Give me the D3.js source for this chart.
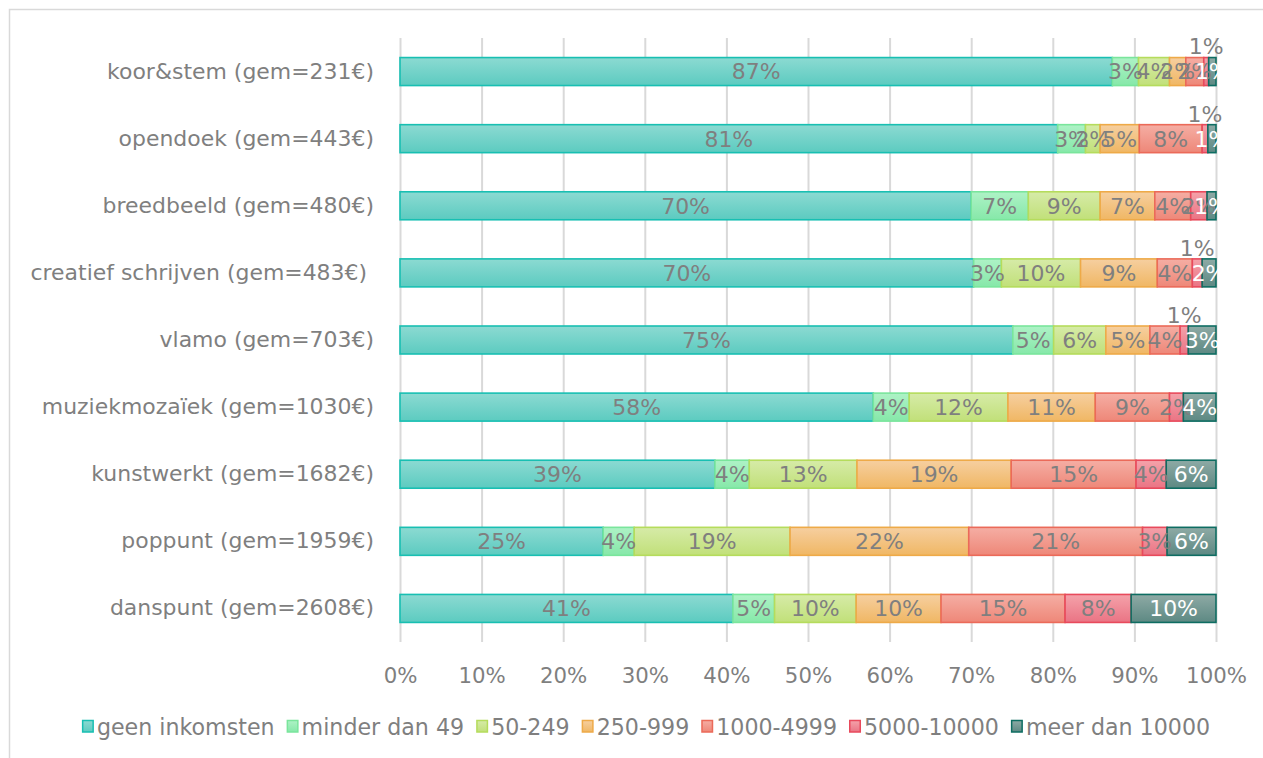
<!DOCTYPE html>
<html>
<head>
<meta charset="utf-8">
<script src="https://cdn.jsdelivr.net/npm/d3@7"></script>
<style>
  html, body { margin: 0; padding: 0; background: #fff; }
  svg { display: block; }
</style>
</head>
<body>
<svg id="chart" width="1263" height="758"></svg>
<script>
// ---- data ----
const categories = [
  "koor&stem (gem=231€)",
  "opendoek (gem=443€)",
  "breedbeeld (gem=480€)",
  "creatief schrijven (gem=483€) ",
  "vlamo (gem=703€)",
  "muziekmozaïek (gem=1030€)",
  "kunstwerkt (gem=1682€)",
  "poppunt (gem=1959€)",
  "danspunt (gem=2608€)"
];
const seriesNames = ["geen inkomsten", "minder dan 49", "50-249", "250-999", "1000-4999", "5000-10000", "meer dan 10000"];
const geenInkomsten = [87.3, 80.6, 70.0, 70.3, 75.1, 58.0, 38.6, 24.9, 40.8];
const minderDan49   = [3.2, 3.4, 7.0, 3.4, 5.0, 4.4, 4.2, 3.8, 5.1];
const s50_249       = [3.8, 1.8, 8.8, 9.7, 6.4, 12.1, 13.2, 19.1, 10.0];
const s250_999      = [2.0, 4.8, 6.7, 9.4, 5.4, 10.7, 18.9, 21.9, 10.4];
const s1000_4999    = [2.2, 7.7, 4.4, 4.3, 3.7, 9.1, 15.3, 21.3, 15.2];
const s5000_10000   = [0.6, 0.7, 2.0, 1.2, 1.0, 1.7, 3.7, 3.0, 8.1];
const meerDan10000  = [0.9, 1.0, 1.1, 1.7, 3.4, 4.0, 6.1, 6.0, 10.4];
const xTicks = [0, 10, 20, 30, 40, 50, 60, 70, 80, 90, 100];

const seriesValues = [geenInkomsten, minderDan49, s50_249, s250_999, s1000_4999, s5000_10000, meerDan10000];

// ---- styles ----
const fillTop    = ["#8cdad2", "#aef2c6", "#d6eba8", "#f6cfa0", "#f5aea4", "#f4a2aa", "#8eaaa5"];
const fillBottom = ["#5ccbc0", "#86e8a9", "#c1e079", "#f0b764", "#ee8778", "#ea7484", "#5d8983"];
const strokeCol  = ["#18bfb2", "#7ae59c", "#b5dc5c", "#eeaa48", "#eb6a59", "#e84a5c", "#0e6d62"];
const labelCol   = ["#7f7f7f", "#7f7f7f", "#7f7f7f", "#7f7f7f", "#7f7f7f", "#7f7f7f", "#ffffff"];
const FONT = "'Century Gothic', 'URW Gothic', 'DejaVu Sans', sans-serif";

const svg = d3.select("#chart");

// fit font size so the first category label matches the reference width
const probe = svg.append("text").attr("font-family", FONT).attr("font-size", 100).text(categories[0]);
const w100 = probe.node().getComputedTextLength();
probe.remove();
const FS = Math.min(24, 100 * 267 / w100);

// chart border
svg.append("rect").attr("x", 9.5).attr("y", 9.5).attr("width", 1400).attr("height", 900)
  .attr("fill", "none").attr("stroke", "#d9d9d9").attr("stroke-width", 1.5);

const x = d3.scaleLinear().domain([0, 100]).range([400, 1216]);
const y = d3.scaleBand().domain(categories).range([38, 642]).paddingInner(0.583).paddingOuter(0.2915);

const defs = svg.append("defs");
seriesNames.forEach((s, i) => {
  const g = defs.append("linearGradient").attr("id", "grad" + i)
    .attr("x1", 0).attr("y1", 0).attr("x2", 0).attr("y2", 1);
  g.append("stop").attr("offset", "0%").attr("stop-color", fillTop[i]);
  g.append("stop").attr("offset", "100%").attr("stop-color", fillBottom[i]);
});

// gridlines + tick labels
const xAxis = d3.axisBottom(x).tickValues(xTicks).tickFormat(d => d + "%")
  .tickSize(-(642 - 38)).tickPadding(0);
const gx = svg.append("g").attr("transform", "translate(0,642)").call(xAxis);
gx.select(".domain").remove();
gx.selectAll(".tick line").attr("stroke", "#d9d9d9").attr("stroke-width", 2);
gx.selectAll(".tick text").attr("fill", "#7f7f7f").attr("font-family", FONT)
  .attr("font-size", FS * 0.97).attr("dy", null).attr("y", 41);

// category labels
const yAxis = d3.axisLeft(y).tickSize(0).tickPadding(0);
const gy = svg.append("g").attr("transform", "translate(374,0)").call(yAxis);
gy.select(".domain").remove();
gy.selectAll(".tick text").attr("fill", "#7f7f7f").attr("font-family", FONT).attr("font-size", FS)
  .style("white-space", "pre");

// stacked data
const stackData = categories.map((c, ci) => {
  let acc = 0;
  return seriesValues.map((arr, si) => {
    const v = arr[ci];
    const d = { cat: c, series: si, v: v, x0: acc, x1: acc + v };
    acc += v;
    return d;
  });
});

const gBars = svg.append("g");
stackData.forEach(row => {
  row.forEach(d => {
    gBars.append("rect")
      .attr("x", x(d.x0))
      .attr("y", y(d.cat))
      .attr("width", x(d.x1) - x(d.x0))
      .attr("height", y.bandwidth())
      .attr("fill", "url(#grad" + d.series + ")")
      .attr("stroke", strokeCol[d.series])
      .attr("stroke-width", 1.6);
  });
});

// data labels
const gLab = svg.append("g").attr("font-family", FONT).attr("font-size", FS).attr("text-anchor", "middle");
stackData.forEach(row => {
  row.forEach(d => {
    const raised = d.v < 1.5 && d.series !== seriesNames.length - 1;
    const cy = raised ? y(d.cat) - 11 : y(d.cat) + y.bandwidth() / 2;
    gLab.append("text")
      .attr("x", x((d.x0 + d.x1) / 2))
      .attr("y", cy)
      .attr("dy", "0.36em")
      .attr("fill", raised ? "#7f7f7f" : labelCol[d.series])
      .text(Math.round(d.v) + "%");
  });
});

// legend
const leg = svg.append("g").attr("font-family", FONT).attr("font-size", FS * 1.01);
let lx = 0;
const items = [];
const GAP = 12;
seriesNames.forEach((s, i) => {
  const it = leg.append("g");
  it.append("rect").attr("x", 0.75).attr("y", -6.5).attr("width", 10.5).attr("height", 11.5)
    .attr("fill", "url(#grad" + i + ")").attr("stroke", strokeCol[i]).attr("stroke-width", 1.5);
  const t = it.append("text").attr("x", 15).attr("y", 0).attr("dy", "0.36em").attr("fill", "#7f7f7f").text(s);
  const w = 15 + t.node().getComputedTextLength();
  items.push({ it, lx });
  lx += w + GAP;
});
const totalW = lx - GAP;
const startX = 646 - totalW / 2;
items.forEach(o => o.it.attr("transform", `translate(${startX + o.lx},727)`));
</script>
</body>
</html>
